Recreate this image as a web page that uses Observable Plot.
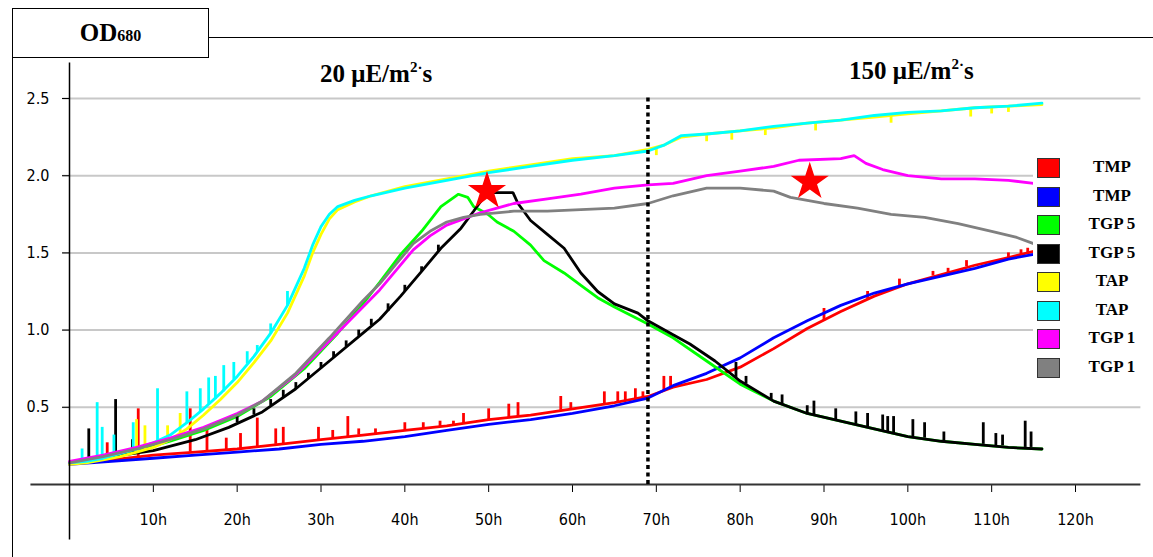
<!DOCTYPE html>
<html><head><meta charset="utf-8">
<script src="https://cdn.jsdelivr.net/npm/d3@7"></script>
<script src="https://cdn.jsdelivr.net/npm/@observablehq/plot@0.6"></script>
<style>
html,body{margin:0;padding:0;background:#fff;}
#wrap{position:relative;width:1153px;height:557px;overflow:hidden;background:#fff;}
#wrap svg{position:absolute;left:0;top:0;}
.ov{position:absolute;box-sizing:border-box;}
.serif{font-family:"Liberation Serif","Times New Roman",serif;font-weight:bold;color:#000;white-space:nowrap;}
.lg-row{position:absolute;left:4px;height:20px;width:116px;}
.lg-sw{position:absolute;left:0;top:0;width:23px;height:20px;border:1.5px solid #333;box-sizing:border-box;}
.lg-tx{position:absolute;left:38px;width:74px;text-align:center;top:-1px;font-size:17px;line-height:20px;}
</style></head>
<body><div id="wrap"></div>
<script>
// ---- data (hours, OD680) ----
const tmpRed = [[0,0.14],[5,0.16],[10,0.19],[15,0.21],[20,0.23],[25,0.26],[30,0.29],[35,0.32],[40,0.35],[45,0.38],[50,0.42],[55,0.45],[60,0.49],[65,0.53],[69,0.57],[72,0.63],[76,0.68],[80,0.76],[84,0.88],[88,1.01],[92,1.12],[96,1.22],[100,1.30],[104,1.36],[108,1.42],[112,1.47],[115,1.51]];
const tmpRedSpikes = [[4.5,0.16,0.27],[8.2,0.18,0.49],[14.4,0.21,0.49],[16.4,0.22,0.36],[18.7,0.22,0.30],[20.4,0.23,0.33],[22.4,0.24,0.43],[24.6,0.26,0.36],[25.5,0.26,0.37],[29.7,0.29,0.37],[31.4,0.30,0.35],[33.2,0.31,0.44],[34.5,0.32,0.36],[36.5,0.33,0.36],[40,0.35,0.40],[42.2,0.36,0.40],[44.2,0.37,0.41],[45.8,0.38,0.41],[47,0.39,0.46],[50,0.42,0.49],[52.4,0.43,0.52],[53.5,0.44,0.53],[58.6,0.48,0.57],[59.8,0.49,0.53],[63.8,0.52,0.60],[65.4,0.53,0.60],[66.3,0.54,0.60],[67.5,0.55,0.62],[68.4,0.56,0.60],[70.9,0.61,0.70],[71.7,0.62,0.70],[90,1.06,1.14],[95.2,1.20,1.25],[99,1.28,1.33],[103,1.35,1.38],[104.8,1.37,1.40],[107,1.41,1.45],[112,1.47,1.50],[113.5,1.49,1.52],[114.3,1.50,1.53]];
const tmpBlue = [[0,0.13],[5,0.15],[10,0.17],[15,0.19],[20,0.21],[25,0.23],[30,0.26],[35,0.28],[40,0.31],[45,0.35],[50,0.39],[55,0.42],[60,0.46],[65,0.51],[69,0.56],[72,0.64],[76,0.72],[80,0.82],[84,0.95],[88,1.06],[92,1.16],[96,1.24],[100,1.30],[104,1.35],[108,1.40],[112,1.46],[115,1.49]];
const tgp5Green = [[0,0.14],[4,0.18],[8,0.22],[12,0.28],[16,0.35],[20,0.44],[24,0.57],[28,0.75],[32,0.98],[35,1.17],[37,1.31],[39.5,1.49],[42,1.64],[44.3,1.80],[46.4,1.88],[47.5,1.86],[48.2,1.80],[49.9,1.75],[51,1.70],[53,1.64],[55,1.55],[56.6,1.45],[59,1.37],[61,1.29],[63,1.21],[65,1.15],[69,1.04],[72,0.95],[76,0.80],[80,0.65],[84,0.54],[88,0.46],[92,0.41],[96,0.36],[100,0.31],[104,0.28],[108,0.26],[112,0.24],[116,0.23]];
const tgp5Black = [[0,0.14],[5,0.18],[10,0.22],[15,0.29],[19,0.37],[23,0.47],[27,0.62],[31,0.80],[35,0.98],[37,1.07],[39.5,1.22],[42,1.38],[44.3,1.53],[46.7,1.66],[48.2,1.77],[49.4,1.86],[50.6,1.89],[52.9,1.89],[53.5,1.82],[55,1.71],[57,1.62],[59,1.53],[61,1.37],[63,1.25],[65,1.17],[67.8,1.11],[69,1.06],[72,0.97],[74,0.91],[77,0.80],[80,0.67],[84,0.54],[88,0.46],[92,0.41],[96,0.36],[100,0.31],[104,0.28],[108,0.26],[112,0.24],[116,0.23]];
const tgp5BlackSpikes = [[2.3,0.15,0.36],[5.5,0.18,0.55],[7.5,0.20,0.29],[20,0.40,0.44],[22,0.45,0.49],[24,0.51,0.55],[25.5,0.56,0.61],[27,0.62,0.66],[28.5,0.68,0.72],[30,0.75,0.79],[31.5,0.82,0.86],[33,0.89,0.93],[34.5,0.96,1.00],[36,1.03,1.07],[38,1.12,1.17],[40,1.25,1.29],[42,1.38,1.41],[44,1.51,1.55],[79.5,0.69,0.79],[80.7,0.65,0.70],[83.7,0.55,0.59],[85,0.52,0.58],[88,0.46,0.51],[88.8,0.45,0.54],[91.4,0.42,0.49],[93.8,0.39,0.47],[95.2,0.37,0.46],[97,0.35,0.45],[97.6,0.34,0.44],[98.3,0.33,0.44],[100.6,0.31,0.42],[102,0.30,0.40],[104.3,0.28,0.34],[109,0.26,0.40],[110.5,0.25,0.33],[111.3,0.25,0.32],[114,0.24,0.41],[114.7,0.24,0.34]];
const tapYellow = [[0,0.13],[2,0.14],[4,0.16],[6,0.18],[8,0.21],[10,0.24],[12,0.29],[14,0.36],[16,0.45],[18,0.55],[20,0.66],[22,0.79],[24,0.93],[26,1.11],[28,1.35],[29,1.50],[30,1.62],[31,1.72],[32,1.78],[34,1.83],[36,1.87],[40,1.93],[45,1.98],[50,2.03],[55,2.07],[60,2.11],[65,2.13],[69,2.17],[71,2.20],[73,2.25],[76,2.27],[80,2.29],[84,2.31],[88,2.34],[92,2.36],[96,2.38],[100,2.40],[104,2.42],[108,2.44],[112,2.45],[116,2.46]];
const tapYellowSpikes = [[8,0.21,0.42],[9,0.22,0.38],[11.7,0.28,0.38],[13.2,0.32,0.46],[70,2.18,2.13],[76,2.27,2.22],[79,2.28,2.23],[83,2.31,2.26],[89,2.34,2.29],[98,2.39,2.34],[107.5,2.43,2.38],[110,2.44,2.40],[112,2.45,2.41]];
const tapCyan = [[0,0.14],[2,0.15],[4,0.17],[6,0.20],[8,0.23],[10,0.27],[12,0.32],[14,0.40],[16,0.49],[18,0.59],[20,0.70],[22,0.83],[24,0.98],[26,1.16],[28,1.40],[29,1.55],[30,1.67],[31,1.75],[32,1.80],[34,1.84],[36,1.87],[40,1.92],[45,1.97],[50,2.02],[55,2.06],[60,2.10],[65,2.13],[69,2.16],[71,2.20],[73,2.26],[76,2.27],[80,2.29],[84,2.32],[88,2.34],[92,2.36],[96,2.39],[100,2.41],[104,2.42],[108,2.44],[112,2.45],[116,2.47]];
const tapCyanSpikes = [[1.5,0.15,0.23],[3.3,0.17,0.53],[3.9,0.17,0.37],[5.3,0.19,0.32],[7.6,0.22,0.40],[10.5,0.28,0.62],[14,0.40,0.60],[15.6,0.47,0.62],[16.6,0.52,0.69],[17.4,0.55,0.70],[18.4,0.60,0.77],[19.6,0.68,0.79],[21.2,0.78,0.86],[22.4,0.86,0.90],[24,0.98,1.04],[26,1.16,1.25]];
const tgp1Magenta = [[0,0.15],[4,0.19],[8,0.24],[12,0.30],[16,0.37],[20,0.46],[23,0.54],[27,0.71],[31,0.93],[35,1.15],[37,1.26],[39,1.39],[41,1.52],[43,1.61],[45,1.68],[47,1.72],[49,1.76],[51,1.79],[53,1.82],[57,1.85],[61,1.88],[65,1.92],[69,1.94],[72,1.95],[76,2.00],[80,2.03],[84,2.06],[87,2.10],[92,2.11],[93.6,2.13],[95,2.08],[97,2.04],[100,2.00],[104,1.98],[108,1.98],[112,1.97],[115,1.95]];
const tgp1Gray = [[0,0.14],[4,0.18],[8,0.23],[12,0.29],[16,0.36],[20,0.45],[23,0.54],[27,0.72],[31,0.95],[35,1.19],[37,1.30],[39,1.43],[41,1.56],[43,1.64],[45,1.70],[47,1.73],[49,1.75],[53,1.77],[57,1.77],[61,1.78],[65,1.79],[69,1.82],[72,1.87],[76,1.92],[80,1.92],[84,1.90],[86,1.86],[90,1.82],[94,1.79],[98,1.75],[102,1.73],[106,1.69],[110,1.64],[113,1.60],[115,1.56]];

const legendLabels = ["TMP","TMP","TGP 5","TGP 5","TAP","TAP","TGP 1","TGP 1"];
const legendColors = ["#ff0000","#0000ff","#00ff00","#000000","#ffff00","#00ffff","#ff00ff","#808080"];
const xTicks = [10,20,30,40,50,60,70,80,90,100,110,120];
const yTicks = [0.5,1.0,1.5,2.0,2.5];
const lightSwitch = [69];
const stars = [[49.8,1.90],[88.3,1.96]];
const lightLabels = ["20 μE/m", "150 μE/m"];

const series = [
  {data: tmpRed, spikes: tmpRedSpikes},
  {data: tmpBlue, spikes: []},
  {data: tgp5Green, spikes: []},
  {data: tgp5Black, spikes: tgp5BlackSpikes},
  {data: tapYellow, spikes: tapYellowSpikes},
  {data: tapCyan, spikes: tapCyanSpikes},
  {data: tgp1Magenta, spikes: []},
  {data: tgp1Gray, spikes: []}
].map((s, i) => ({...s, color: legendColors[i]}));

const marks = [
  Plot.ruleY(yTicks, {x1: -0.8, x2: 127.8, stroke: "#c8c8c8", strokeWidth: 2}),
  Plot.axisY({ticks: yTicks, tickFormat: d3.format(".1f"), tickSize: 7, tickPadding: 13, label: null, stroke: "#000"}),
  Plot.axisX({ticks: xTicks, tickFormat: d => d + "h", tickSize: 8, tickPadding: 21, label: null, stroke: "#000"}),
];
for (const s of series) {
  marks.push(Plot.line(s.data, {x: d => d[0], y: d => d[1], stroke: s.color, strokeWidth: 2.8, strokeLinejoin: "miter"}));
  if (s.spikes.length) marks.push(Plot.ruleX(s.spikes, {x: d => d[0], y1: d => d[1], y2: d => d[2], stroke: s.color, strokeWidth: 2.8}));
}
marks.push(
  Plot.ruleY([0], {x1: -4.6, x2: 127.8, stroke: "#333", strokeWidth: 2}),
  Plot.ruleX([0], {y1: -0.36, y2: 2.73, stroke: "#000", strokeWidth: 1.5}),
  Plot.ruleX(lightSwitch, {y1: 0, y2: 2.52, stroke: "#000", strokeWidth: 3.5, strokeDasharray: "4,3.5"}),
  Plot.dot(stars, {x: d => d[0], y: d => d[1], symbol: "star", r: 12, fill: "#ff0000", stroke: "none"})
);

const chart = Plot.plot({
  width: 1153, height: 557,
  marginLeft: 69, marginRight: 78, marginTop: 98, marginBottom: 73,
  x: {domain: [0, 120]},
  y: {domain: [0, 2.5]},
  style: {fontFamily: "'Liberation Sans Narrow','DejaVu Sans Condensed',sans-serif", fontSize: "16px", color: "#000", background: "transparent"},
  marks
});
const wrap = document.getElementById("wrap");
wrap.appendChild(chart);

function ov(html, css) {
  const d = document.createElement("div");
  d.className = "ov";
  d.style.cssText = css;
  d.innerHTML = html;
  wrap.appendChild(d);
  return d;
}
// frame
ov("", "left:12px;top:8px;width:197px;height:50px;border:1.5px solid #000;background:#fff;");
ov("", "left:208px;top:37px;width:945px;height:0;border-top:1.5px solid #000;");
ov("", "left:12px;top:57px;width:0;height:500px;border-left:1.5px solid #000;");
ov('<span style="font-size:25px">OD</span><span style="font-size:16px">680</span>', "left:12px;top:19px;width:197px;text-align:center;line-height:28px;", ).classList.add("serif");
ov(lightLabels[0] + '<sup style="font-size:15px;vertical-align:10px">2</sup><span style="font-size:15px;vertical-align:9px">·</span>s', "left:320px;top:53px;font-size:25px;line-height:28px;").classList.add("serif");
ov(lightLabels[1] + '<sup style="font-size:15px;vertical-align:10px">2</sup><span style="font-size:15px;vertical-align:9px">·</span>s', "left:849px;top:50px;font-size:25px;line-height:28px;").classList.add("serif");
// legend
const lg = ov("", "left:1033px;top:150px;width:120px;height:232px;background:#fff;");
legendLabels.forEach((lab, i) => {
  const r = document.createElement("div");
  r.className = "lg-row";
  r.style.top = (8 + i * 28.5) + "px";
  r.innerHTML = `<div class="lg-sw" style="background:${legendColors[i]}"></div><div class="lg-tx serif">${lab}</div>`;
  lg.appendChild(r);
});
</script>
</body></html>
